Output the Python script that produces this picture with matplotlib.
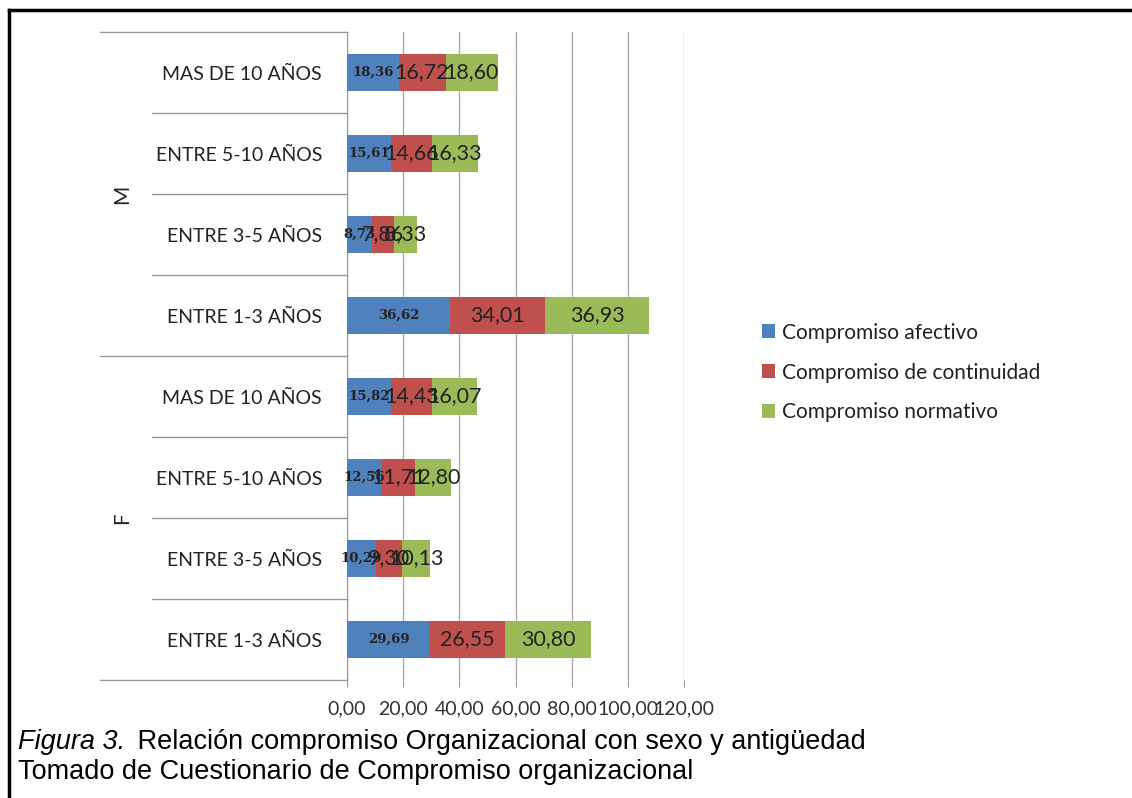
import numpy as np
import matplotlib.pyplot as plt
from matplotlib.lines import Line2D
import matplotlib.transforms as mtransforms

# datos (de abajo hacia arriba, como en Excel)
categorias = ['ENTRE 1-3 AÑOS', 'ENTRE 3-5 AÑOS', 'ENTRE 5-10 AÑOS', 'MAS DE 10 AÑOS',
              'ENTRE 1-3 AÑOS', 'ENTRE 3-5 AÑOS', 'ENTRE 5-10 AÑOS', 'MAS DE 10 AÑOS']
grupos = ['F', 'M']
afectivo = [29.69, 10.29, 12.56, 15.82, 36.62, 8.73, 15.61, 18.36]
continuidad = [26.55, 9.30, 11.71, 14.43, 34.01, 7.86, 14.66, 16.72]
normativo = [30.80, 10.13, 12.80, 16.07, 36.93, 8.33, 16.33, 18.60]
series = ['Compromiso afectivo', 'Compromiso de continuidad', 'Compromiso normativo']
colores = ['#4F81BD', '#C0504D', '#9BBB59']
xticks = [0, 20, 40, 60, 80, 100, 120]

plt.rcParams['font.family'] = ['Lato', 'DejaVu Sans']

fig = plt.figure(figsize=(11.32, 7.98), dpi=100)
W, H = 1132, 798
ax = fig.add_axes([347 / W, 1 - 680 / H, (684 - 347) / W, (680 - 32) / H])

y = np.arange(len(categorias))
izq = np.zeros(len(categorias))
valores = [afectivo, continuidad, normativo]
for k, (vals, col, nom) in enumerate(zip(valores, colores, series)):
    bars = ax.barh(y, vals, left=izq, height=0.45, color=col, label=nom, zorder=3)
    for b, v in zip(bars, vals):
        cx = b.get_x() + b.get_width() / 2
        txt = ('%.2f' % v).replace('.', ',')
        if k == 0:
            ax.text(cx, b.get_y() + b.get_height() / 2, txt, ha='center', va='center',
                    fontsize=9.5, fontweight='bold', color='#222222', zorder=4,
                    family=['DejaVu Serif'])
        else:
            ax.text(cx, b.get_y() + b.get_height() / 2, txt, ha='center', va='center',
                    fontsize=15.5, color='#222222', zorder=4)
    izq += np.array(vals)

ax.set_xlim(0, 120)
ax.set_ylim(-0.5, len(categorias) - 0.5)
ax.set_xticks(xticks)
ax.set_xticklabels([('%.2f' % t).replace('.', ',') for t in xticks], fontsize=14, color='#333333')
ax.set_yticks(y)
ax.set_yticklabels(categorias, fontsize=14, color='#222222')
ax.tick_params(axis='y', length=0, pad=18)
ax.tick_params(axis='x', length=5, color='#999999', pad=10)
for s in ['top', 'right', 'bottom']:
    ax.spines[s].set_visible(False)
ax.spines['left'].set_color('#999999')
ax.grid(axis='x', color='#AAAAAA', linewidth=1, zorder=0)

# lineas separadoras del eje de categorias
trans = mtransforms.blended_transform_factory(ax.transAxes, ax.transData)
x_largo = (100 - 347) / (684 - 347)
x_corto = (152 - 347) / (684 - 347)
for b in np.arange(-0.5, len(categorias), 1.0):
    x0 = x_largo if b in (-0.5, 3.5, 7.5) else x_corto
    ax.plot([x0, 0], [b, b], transform=trans, color='#999999', lw=1, clip_on=False)

ax.text((122 - 347) / (684 - 347), 5.5, 'M', transform=trans, rotation=90,
        ha='center', va='center', fontsize=15, color='#222222')
ax.text((122 - 347) / (684 - 347), 1.5, 'F', transform=trans, rotation=90,
        ha='center', va='center', fontsize=15, color='#222222')

fig.legend(loc='upper left', bbox_to_anchor=(743 / W, 1 - 304 / H), frameon=False,
           fontsize=15, handlelength=0.65, handleheight=0.65, handletextpad=0.3,
           labelspacing=0.95, labelcolor='#222222')

# marco
fig.add_artist(Line2D([9 / W, 9 / W], [0, 1 - 10 / H], color='black', lw=2.5))
fig.add_artist(Line2D([9 / W, 1], [1 - 10 / H, 1 - 10 / H], color='black', lw=2.5))

# pie de figura
fig.text(18 / W, 1 - 742 / H, 'Figura 3.', style='italic', fontsize=19.5,
         family=['Liberation Sans'], va='center')
fig.text(130 / W, 1 - 742 / H, ' Relación compromiso Organizacional con sexo y antigüedad',
         fontsize=19.5, family=['Liberation Sans'], va='center')
fig.text(18 / W, 1 - 772 / H, 'Tomado de Cuestionario de Compromiso organizacional',
         fontsize=19.5, family=['Liberation Sans'], va='center')

fig.savefig('out.png', dpi=100)
